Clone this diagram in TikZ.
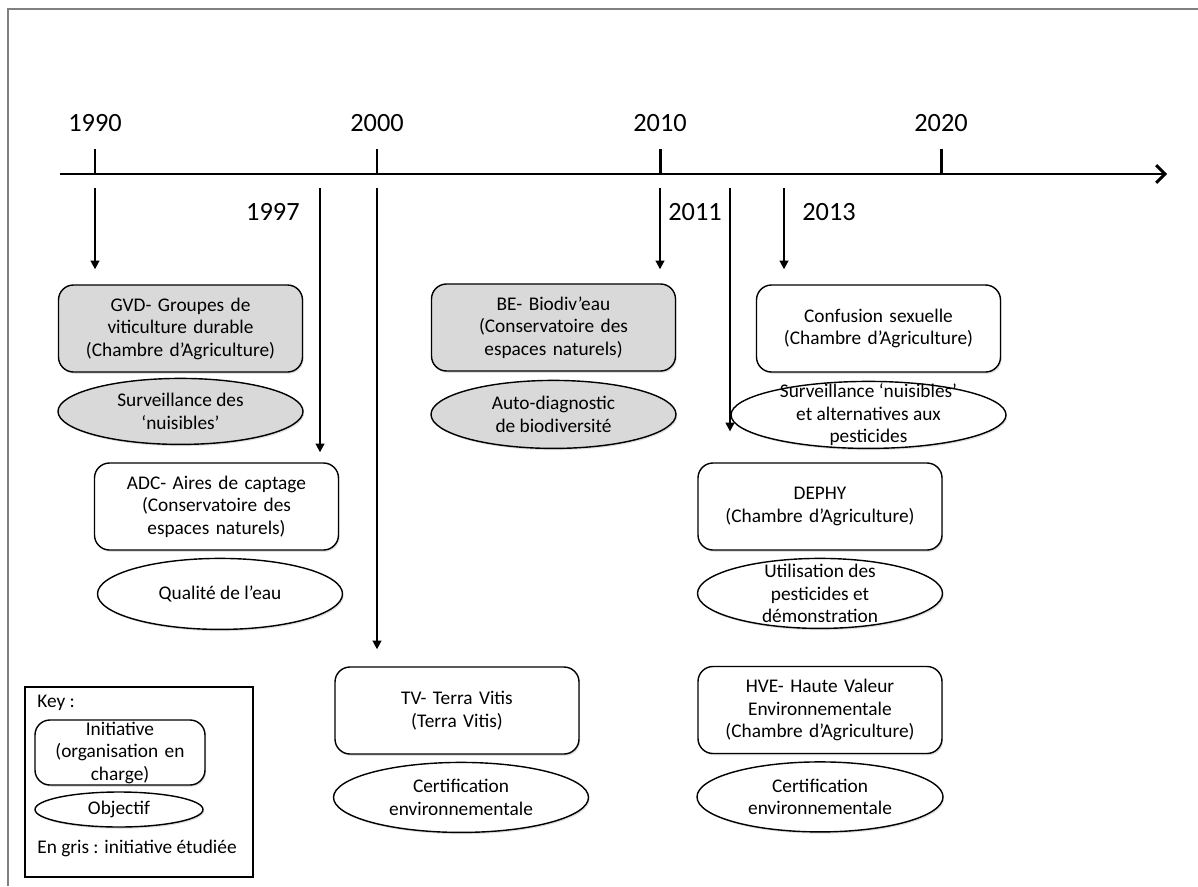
\documentclass[tikz,border=0pt]{standalone}
\usepackage{fontspec}
\setmainfont{Carlito}
\usetikzlibrary{shapes.geometric,positioning,shadows,arrows.meta}
\tikzset{
	initiative/.style={rectangle, rounded corners=0.3cm, draw, line width=0.8pt, fill=white,
		minimum width=4.88cm, minimum height=1.74cm, text width=4.6cm, align=center,
		font=\fontsize{11}{12.8}\selectfont,
		drop shadow={opacity=0.25, shadow xshift=0.7pt, shadow yshift=-1pt}},
	etudiee/.style={fill=black!15},
	objectif/.style={ellipse, draw, line width=0.8pt, fill=white,
		minimum width=4.9cm, minimum height=1.36cm, inner sep=0pt,
		drop shadow={opacity=0.25, shadow xshift=0.7pt, shadow yshift=-1pt},
		label={[texte]center:{#1}}},
	texte/.style={align=center, font=\fontsize{11}{12.8}\selectfont, inner sep=0pt},
	annee/.style={font=\fontsize{15}{17}\selectfont, inner sep=0pt},
	fleche/.style={line width=1.1pt, -{Triangle[length=5pt,width=5pt]}},
	axe/.style={line width=1.7pt, -{Straight Barb[length=5pt,width=10pt]}},
	graduation/.style={line width=1.7pt}
}
\begin{document}
\begin{tikzpicture}
	\useasboundingbox (0,0) rectangle (23.96,-17.72);
	\draw[gray, line width=1.1pt] (0.16,-17.72) -- (0.16,-0.18) -- (23.96,-0.18);
	
	\coordinate (debut) at (1.2,-3.48);
	\coordinate (fin) at (23.34,-3.48);
	\draw[axe] (debut) -- (fin);
	\foreach \x/\an in {1.90/1990, 7.54/2000, 13.2/2010, 18.82/2020}{
		\draw[graduation] (\x,-3.48) -- (\x,-2.98);
		\node[annee] (a\an) at (\x,-2.46) {\an};
	}
	\coordinate (d1990) at (1.90,-3.76);
	\coordinate (d1997) at (6.40,-3.76);
	\coordinate (d2000) at (7.54,-3.76);
	\coordinate (d2010) at (13.2,-3.76);
	\coordinate (d2011) at (14.60,-3.76);
	\coordinate (d2013) at (15.68,-3.76);
	\node[annee, anchor=east] (a1997) at (6.0,-4.24) {1997};
	\node[annee, anchor=west] (a2011) at (13.36,-4.24) {2011};
	\node[annee, anchor=west] (a2013) at (16.04,-4.24) {2013};
	
	\node[initiative, etudiee] (gvd) at (3.61,-6.57) {GVD- Groupes de\\ viticulture durable\\ (Chambre d’Agriculture)};
	\node[objectif={Surveillance des\\ ‘nuisibles’}, etudiee, minimum height=1.32cm, below=0.1cm of gvd] (survgvd) {};
	
	\node[initiative, etudiee] (be) at (11.07,-6.55) {BE- Biodiv’eau\\ (Conservatoire des\\ espaces naturels)};
	\node[objectif={Auto-diagnostic\\ de biodiversité}, etudiee, below=0.16cm of be] (autodiag) {};
	
	\node[initiative] (conf) at (17.57,-6.57) {Confusion sexuelle\\ (Chambre d’Agriculture)};
	\node[objectif={Surveillance ‘nuisibles’\\ et alternatives aux\\ pesticides}, minimum width=5.5cm, minimum height=1.34cm, below=0.16cm of conf, xshift=-0.2cm] (survconf) {};
	
	\node[initiative] (adc) at (4.33,-10.13) {ADC- Aires de captage\\ (Conservatoire des\\ espaces naturels)};
	\node[objectif={Qualité de l’eau}, minimum height=1.42cm, below=0.14cm of adc, xshift=0.07cm] (eau) {};
	
	\node[initiative] (dephy) at (16.40,-10.13) {DEPHY\\ (Chambre d’Agriculture)};
	\node[objectif={Utilisation des\\ pesticides et\\ démonstration}, minimum height=1.4cm, below=0.14cm of dephy] (util) {};
	
	\node[initiative] (tv) at (9.14,-14.21) {TV- Terra Vitis\\ (Terra Vitis)};
	\node[objectif={Certification\\ environnementale}, minimum width=5.1cm, minimum height=1.4cm, below=0.14cm of tv, xshift=0.08cm] (certtv) {};
	
	\node[initiative] (hve) at (16.40,-14.2) {HVE- Haute Valeur\\ Environnementale\\ (Chambre d’Agriculture)};
	\node[objectif={Certification\\ environnementale}, minimum width=4.92cm, minimum height=1.4cm, below=0.14cm of hve] (certhve) {};
	
	\draw[fleche] (d1990) -- ([yshift=0.3cm]gvd.north -| d1990);
	\draw[fleche] (d1997) -- ([yshift=0.2cm]adc.north -| d1997);
	\draw[fleche] (d2000) -- ([yshift=0.34cm]tv.north -| d2000);
	\draw[fleche] (d2010) -- ([yshift=0.28cm]be.north -| d2010);
	\draw[fleche] (d2011) -- ([yshift=-0.33cm]survconf.center -| d2011);
	\draw[fleche] (d2013) -- ([yshift=0.3cm]conf.north -| d2013);
	
	\node[draw, line width=0.6pt, minimum width=4.56cm, minimum height=3.8cm] (cle) at (2.78,-15.64) {};
	\node[texte, anchor=west] (cletitre) at (0.74,-14.06) {Key :};
	\node[initiative, minimum width=3.4cm, minimum height=1.3cm, text width=3.2cm, inner sep=0pt] (cleinit) at (2.40,-15.05) {Initiative\\ (organisation en\\ charge)};
	\node[objectif={Objectif}, minimum width=3.36cm, minimum height=0.7cm] (cleobj) at (2.38,-16.19) {};
	\node[texte] (clegris) at (2.74,-16.96) {En gris : initiative étudiée};
\end{tikzpicture}
\end{document}
